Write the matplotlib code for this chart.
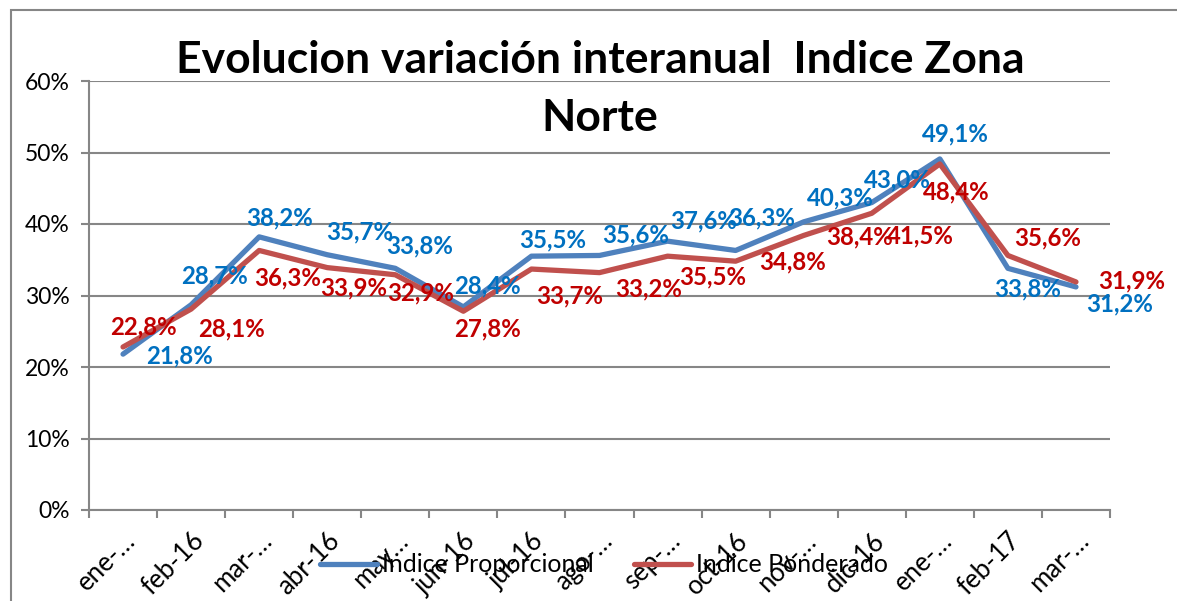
import numpy as np
import matplotlib
matplotlib.use('Agg')
import matplotlib.pyplot as plt
from matplotlib.patches import Rectangle

# data
meses = ['ene-…', 'feb-16', 'mar-…', 'abr-16', 'may…', 'jun-16', 'jul-16', 'ago-…',
         'sep-…', 'oct-16', 'nov-…', 'dic-16', 'ene-…', 'feb-17', 'mar-…']
proporcional = [21.8, 28.7, 38.2, 35.7, 33.8, 28.4, 35.5, 35.6, 37.6, 36.3, 40.3, 43.0, 49.1, 33.8, 31.2]
ponderado = [22.8, 28.1, 36.3, 33.9, 32.9, 27.8, 33.7, 33.2, 35.5, 34.8, 38.4, 41.5, 48.4, 35.6, 31.9]

# label offsets from each point, in pixels (dx, dy with y down)
off_prop = [(56, 2), (23, -29), (20, -19), (32, -23), (24, -22), (24, -21), (21, -16), (36, -21),
            (36, -20), (26, -33), (37, -24), (26, -23), (16, -25), (20, 21), (44, 17)]
off_pond = [(20, -20), (40, 20), (28, 27), (26, 20), (25, 18), (24, 18), (38, 27), (49, 16),
            (45, 21), (57, 1), (56, 1), (49, 23), (16, 28), (40, -18), (56, -1)]

plt.rcParams['font.family'] = ['Lato', 'DejaVu Sans']
W, H = 1177, 601
fig = plt.figure(figsize=(W / 100, H / 100), dpi=100)
ax = fig.add_axes([89 / W, 1 - 510 / H, (1110 - 89) / W, (510 - 81) / H])

# outer chart border
fig.patches.append(Rectangle((11 / W, -0.1), 1.2, 1 - 10 / H + 0.1, transform=fig.transFigure,
                             fill=False, edgecolor='#868686', lw=1.5))

x = np.arange(len(meses))
c_blue = '#4F81BD'; c_red = '#C0504D'
ax.plot(x, proporcional, color=c_blue, lw=3.8, solid_capstyle='round', label='Indice Proporcional', zorder=3)
ax.plot(x, ponderado, color=c_red, lw=3.8, solid_capstyle='round', label='Indice Ponderado', zorder=4)

def fmt(v):
    return ('%.1f%%' % v).replace('.', ',')

for i in range(len(x)):
    dx, dy = off_prop[i]
    ax.annotate(fmt(proporcional[i]), (x[i], proporcional[i]), xytext=(dx * 0.72, -dy * 0.72),
                textcoords='offset points', ha='center', va='center', color='#0070C0',
                fontsize=17.3, fontweight='bold', zorder=5)
    dx, dy = off_pond[i]
    ax.annotate(fmt(ponderado[i]), (x[i], ponderado[i]), xytext=(dx * 0.72, -dy * 0.72),
                textcoords='offset points', ha='center', va='center', color='#C00000',
                fontsize=17.3, fontweight='bold', zorder=5)

ax.set_xlim(-0.5, len(x) - 0.5)
ax.set_ylim(0, 60)
ax.set_yticks(np.arange(0, 61, 10))
ax.set_yticklabels(['%d%%' % v for v in range(0, 61, 10)], fontsize=16.5)
ax.set_xticks(x)
ax.set_xticklabels(meses, rotation=45, ha='right', rotation_mode='anchor', fontsize=18.5)
ax.set_xticks(np.arange(-0.5, len(x)), minor=True)
ax.tick_params(axis='x', which='major', length=0, pad=13)
ax.tick_params(axis='x', which='minor', length=6, color='#868686', width=1.5)
ax.tick_params(axis='y', length=6, color='#868686', width=1.5, pad=8)
ax.grid(axis='y', color='#868686', lw=1.5, zorder=0)
ax.set_axisbelow(True)
for s in ['top', 'right']:
    ax.spines[s].set_visible(False)
for s in ['left', 'bottom']:
    ax.spines[s].set_color('#868686'); ax.spines[s].set_linewidth(1.5)

fig.text(600 / W, 1 - 60 / H, 'Evolucion variación interanual  Indice Zona', ha='center', va='center',
         fontsize=32, fontweight='bold')
fig.text(600 / W, 1 - 118 / H, 'Norte', ha='center', va='center', fontsize=32, fontweight='bold')

leg = fig.legend(loc='center', bbox_to_anchor=(604 / W, 1 - 565 / H), ncol=2, frameon=False,
                 fontsize=18, handlelength=2.3, columnspacing=1.6, handletextpad=0.2)
leg.set_zorder(10)

fig.savefig('out.png', dpi=100)
